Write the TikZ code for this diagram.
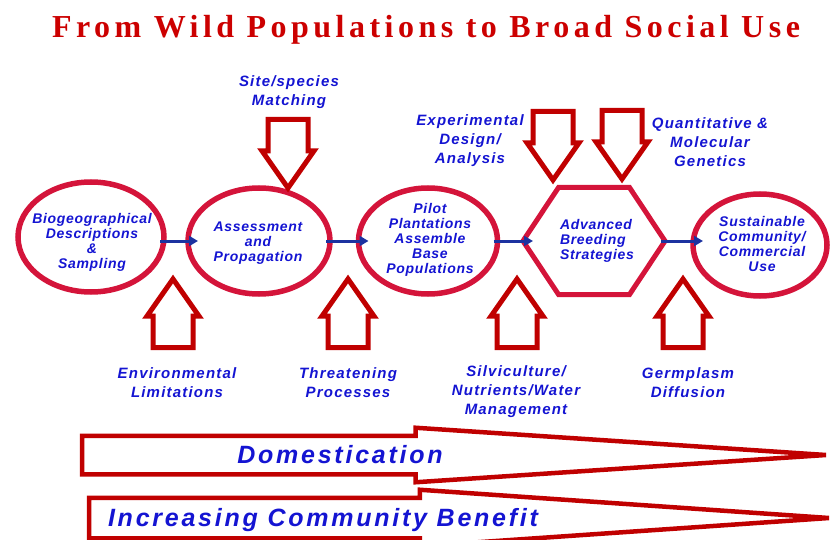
\documentclass[tikz,border=0pt]{standalone}
\usepackage{fontspec}
\setmainfont{Liberation Serif}
\newfontfamily\ttlfont{Liberation Serif}[LetterSpace=14]
\newfontfamily\lblfont{Liberation Sans}[LetterSpace=8]
\newfontfamily\stgfont{Liberation Sans}[LetterSpace=5]
\newfontfamily\bigfont{Liberation Sans}[LetterSpace=11]
\usetikzlibrary{shapes.geometric,shapes.arrows,arrows.meta}

\definecolor{ttlred}{RGB}{204,0,0}
\definecolor{ringred}{RGB}{212,20,58}
\definecolor{arrred}{RGB}{192,0,0}
\definecolor{txtblue}{RGB}{20,20,210}
\definecolor{linkblue}{RGB}{28,50,160}

\begin{document}
\begin{tikzpicture}[
        x=1pt, y=-1pt,
        stage/.style={
            ellipse, draw=ringred, line width=5.5pt,
            inner sep=0pt, outer sep=0pt
        },
        stagetxt/.style={
            font=\stgfont\bfseries\itshape\fontsize{14}{15}\selectfont,
            text=txtblue, align=center, inner sep=0pt
        },
        note/.style={
            font=\lblfont\bfseries\itshape\fontsize{15}{19}\selectfont,
            text=txtblue, align=center, inner sep=0pt
        },
        inflow/.style={
            single arrow, draw=arrred, fill=white, line width=5pt,
            inner sep=17.5pt, outer sep=0pt, minimum width=47pt,
            single arrow head extend=6pt, single arrow tip angle=70,
            anchor=tip
        },
        upward/.style={inflow, shape border rotate=90, minimum height=68pt},
        downward/.style={inflow, shape border rotate=270, minimum height=65pt},
        trend/.style={
            single arrow, draw=arrred, fill=white, line width=4.5pt,
            outer sep=0pt, single arrow head extend=8pt, anchor=tip
        },
        trendtxt/.style={
            font=\bigfont\bfseries\itshape\fontsize{25}{28}\selectfont,
            text=txtblue, inner sep=0pt, anchor=base
        },
        link/.style={
            draw=linkblue, line width=3pt,
            -{Triangle[length=9pt,width=10pt]},
            shorten <=-4pt, shorten >=-10pt
        }
    ]
        \useasboundingbox (0,0) rectangle (832,540);
        \clip (0,0) rectangle (832,540);

        % Heading
        \node[font=\ttlfont\bfseries\fontsize{32}{36}\selectfont, text=ttlred,
              inner sep=0pt, anchor=base] (title) at (426,38)
              {From Wild Populations to Broad Social Use};

        % Stages
        \node[stage, minimum width=146pt, minimum height=110pt] (bio) at (91,237) {};
        \node[stagetxt] (bioT) at (92,242) {Biogeographical\\Descriptions\\\&\\Sampling};

        \node[stage, minimum width=142pt, minimum height=106pt] (assess) at (259,241) {};
        \node[stagetxt] (assessT) at (258,243) {Assessment\\and\\Propagation};

        \node[stage, minimum width=139pt, minimum height=106pt] (pilot) at (428,241) {};
        \node[stagetxt] (pilotT) at (430,240) {Pilot\\Plantations\\Assemble\\Base\\Populations};

        % Breeding hexagon
        \node[minimum width=142pt, minimum height=107pt, inner sep=0pt, outer sep=0pt] (brd) at (594,241) {};
        \draw[ringred, line width=5pt]
            (brd.west) -- ([xshift=-35.5pt]brd.north) -- ([xshift=35.5pt]brd.north)
            -- (brd.east) -- ([xshift=35.5pt]brd.south) -- ([xshift=-35.5pt]brd.south) -- cycle;
        \node[stagetxt, align=left] (brdT) at (597,241) {Advanced\\Breeding\\Strategies};

        \node[stage, minimum width=134pt, minimum height=102pt] (sust) at (760,245) {};
        \node[stagetxt] (sustT) at (762,244) {Sustainable\\Community/\\Commercial\\Use};

        % Inputs from above
        \node[downward] (site) at (288,188) {};
        \node[downward] (design) at (553,180) {};
        \node[downward] (genet) at (622,179) {};
        \node[note] (siteL) at (289,92) {Site/species\\Matching};
        \node[note] (designL) at (470,141) {Experimental\\Design/\\Analysis};
        \node[note] (genetL) at (710,142) {Quantitative \&\\Molecular\\Genetics};

        % Inputs from below
        \node[upward] (env) at (173,279) {};
        \node[upward] (threat) at (348,279) {};
        \node[upward] (silvi) at (517,279) {};
        \node[upward] (germ) at (683,279) {};
        \node[note] (envL) at (177,383) {Environmental\\Limitations};
        \node[note] (threatL) at (348,383) {Threatening\\Processes};
        \node[note] (silviL) at (516,392) {Silviculture/\\Nutrients/Water\\Management};
        \node[note] (germL) at (688,383) {Germplasm\\Diffusion};

        % Flow between stages, kept level
        \draw[link] (bio.east |- assess.west) -- (assess.west);
        \draw[link] (assess.east) -- (pilot.west);
        \draw[link] (pilot.east) -- (brd.west);
        \draw[link] (brd.east) -- (brd.east -| sust.west);

        % Long trends
        \node[trend, inner sep=17pt, minimum width=50pt, minimum height=744pt,
              single arrow tip angle=7.6] (dom) at (826,455) {};
        \node[trendtxt] (domT) at (340,463) {Domestication};
        \node[trend, inner sep=18pt, minimum width=52pt, minimum height=740pt,
              single arrow tip angle=7.9] (ben) at (829,518) {};
        \node[trendtxt] (benT) at (323,526) {Increasing Community Benefit};
\end{tikzpicture}
\end{document}
